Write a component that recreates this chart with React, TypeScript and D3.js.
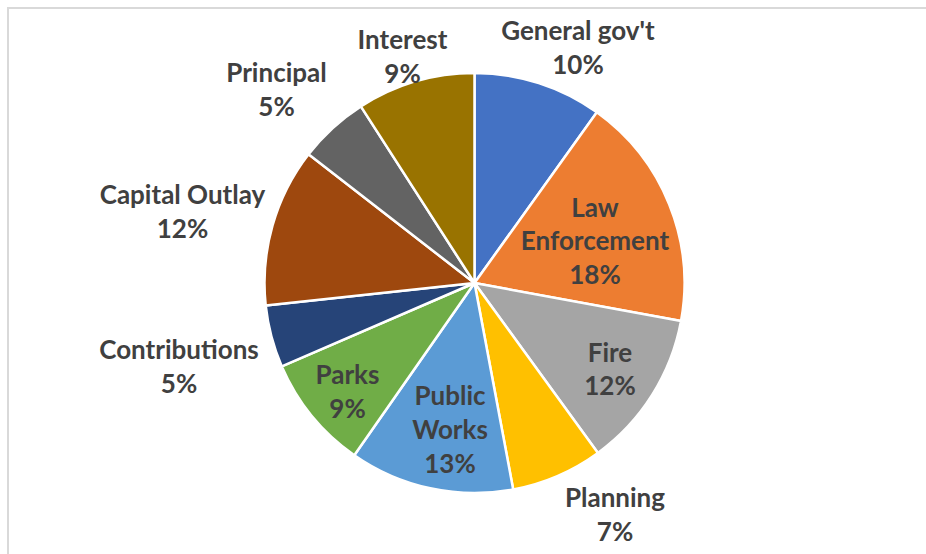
import React from "react";
import * as d3 from "d3";

const categories = [
  "General gov't",
  "Law Enforcement",
  "Fire",
  "Planning",
  "Public Works",
  "Parks",
  "Contributions",
  "Capital Outlay",
  "Principal",
  "Interest",
];
const values = [9.9, 18.0, 12.1, 7.05, 12.65, 8.8, 4.8, 12.2, 5.4, 9.1];
const colors = [
  "#4472C4",
  "#ED7D31",
  "#A5A5A5",
  "#FFC000",
  "#5B9BD5",
  "#70AD47",
  "#264478",
  "#9E480E",
  "#636363",
  "#997300",
];
// label lines (text wrapping as in the reference)
const labelLines: string[][] = [
  ["General gov't"],
  ["Law", "Enforcement"],
  ["Fire"],
  ["Planning"],
  ["Public", "Works"],
  ["Parks"],
  ["Contributions"],
  ["Capital Outlay"],
  ["Principal"],
  ["Interest"],
];
// label anchor: [center x, baseline of first line]
const labelPos: [number, number][] = [
  [578, 40],
  [595, 216.5],
  [610, 361.5],
  [615, 507],
  [450, 405],
  [347.5, 384],
  [179, 359],
  [182.5, 204],
  [276.5, 82],
  [402.5, 49],
];

const W = 926;
const H = 554;
const cx = 474.5;
const cy = 283;
const R = 210;
const lineH = 33.8;

export default function App() {
  const total = d3.sum(values);
  const pie = d3
    .pie<number>()
    .sort(null)
    .value((d) => d)
    .startAngle(0)
    .endAngle(2 * Math.PI);
  const arcs = pie(values);
  const arc = d3.arc<d3.PieArcDatum<number>>().innerRadius(0).outerRadius(R);

  return (
    <svg
      width={W}
      height={H}
      style={{ position: "fixed", left: 0, top: 0, background: "#fff" }}
    >
      <rect x={0} y={0} width={W} height={H} fill="#fff" />
      <rect
        x={8}
        y={8}
        width={W + 100}
        height={H + 100}
        fill="none"
        stroke="#D9D9D9"
        strokeWidth={2}
      />
      <g transform={`translate(${cx},${cy})`}>
        {arcs.map((a, i) => (
          <path
            key={categories[i]}
            d={arc(a) || ""}
            fill={colors[i]}
            stroke="#fff"
            strokeWidth={2.5}
            strokeLinejoin="round"
          />
        ))}
      </g>
      <g
        fontFamily="Lato, 'Open Sans', sans-serif"
        fontWeight={700}
        fontSize={26}
        fill="#404040"
        textAnchor="middle"
      >
        {categories.map((c, i) => {
          const lines = [
            ...labelLines[i],
            `${Math.round((values[i] / total) * 100)}%`,
          ];
          const [x, y] = labelPos[i];
          return (
            <text key={c} x={x} y={y}>
              {lines.map((l, j) => (
                <tspan key={j} x={x} y={y + j * lineH}>
                  {l}
                </tspan>
              ))}
            </text>
          );
        })}
      </g>
    </svg>
  );
}
